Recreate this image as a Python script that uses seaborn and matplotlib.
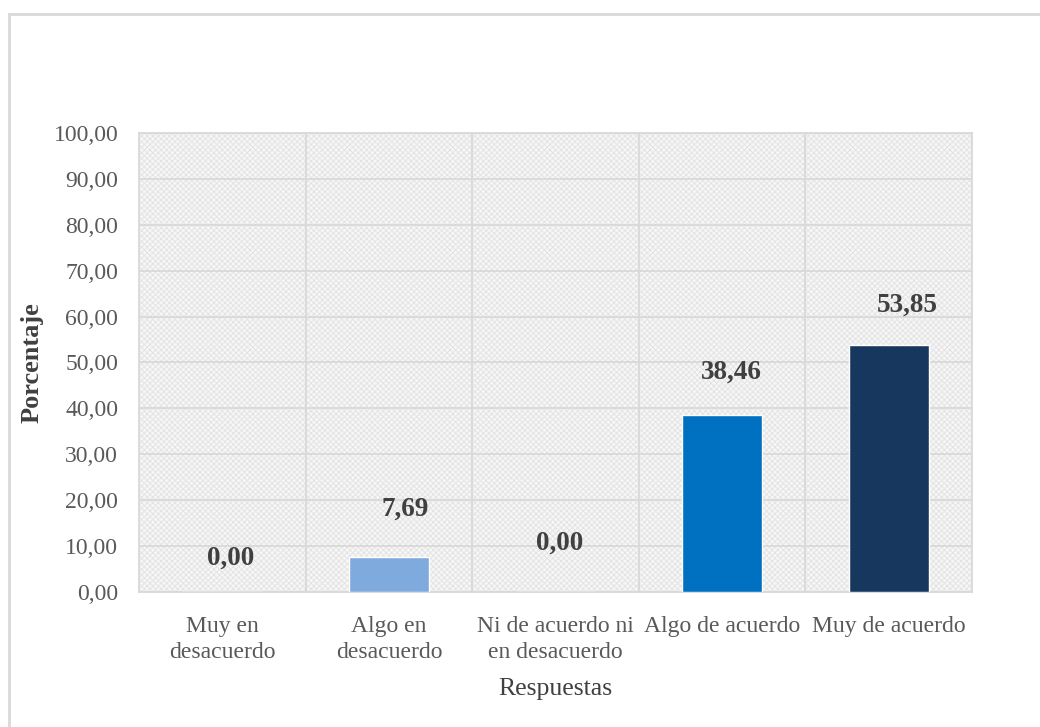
import matplotlib
matplotlib.use("Agg")
import matplotlib.pyplot as plt
from matplotlib.patches import Rectangle
import seaborn as sns
import pandas as pd
import numpy as np

categories = ["Muy en\ndesacuerdo", "Algo en\ndesacuerdo", "Ni de acuerdo ni\nen desacuerdo",
              "Algo de acuerdo", "Muy de acuerdo"]
values = [0.00, 7.69, 0.00, 38.46, 53.85]
bar_colors = ["#7FAADD", "#7FAADD", "#7FAADD", "#0070C0", "#17375E"]
label_lift = [7.4, 10.4, 10.7, 9.5, 8.7]        # value-label height above each bar
label_shift = [0.05, 0.10, 0.025, 0.057, 0.114]  # value-label sideways nudge
y_ticks = np.arange(0, 101, 10)

sns.set_theme(style="white")
plt.rcParams["font.family"] = ["Liberation Serif", "DejaVu Serif"]
plt.rcParams["hatch.linewidth"] = 0.6

fig = plt.figure(figsize=(10.4, 7.27), dpi=100)
ax = fig.add_axes([0.1337, 0.1857, 0.8009, 0.6314])

# outer chart border (top and left visible)
fig.add_artist(Rectangle((9 / 1040, -0.05), 1.2, 1 - 14 / 727 + 0.05, transform=fig.transFigure,
                         fill=False, edgecolor="#D9D9D9", linewidth=2.0))

df = pd.DataFrame({"Respuestas": categories, "Porcentaje": values})
sns.barplot(data=df, x="Respuestas", y="Porcentaje", hue="Respuestas",
            palette=bar_colors, legend=False, width=0.48, saturation=1, ax=ax, zorder=3)

# patterned plot background
ax.add_patch(Rectangle((0, 0), 1, 1, transform=ax.transAxes, facecolor="#F6F6F6",
                       edgecolor="#E2E2E2", hatch="xxxxxx", linewidth=0, zorder=0))

ax.set_xlim(-0.5, len(categories) - 0.5)
ax.set_ylim(0, 100)
ax.set_yticks(y_ticks)
ax.set_yticklabels([f"{v:.2f}".replace(".", ",") for v in y_ticks])
ax.set_xticks(range(len(categories)))
ax.set_xticks(np.arange(0.5, len(categories) - 0.5, 1), minor=True)

ax.grid(True, axis="y", which="major", color="#D9D9D9", linewidth=1.3, zorder=1)
ax.grid(True, axis="x", which="minor", color="#D9D9D9", linewidth=1.3, zorder=1)
ax.grid(False, axis="x", which="major")
ax.set_axisbelow(True)
for s in ax.spines.values():
    s.set_color("#D9D9D9")
    s.set_linewidth(1.3)

ax.tick_params(axis="both", which="both", length=0, colors="#595959", labelsize=17)
ax.tick_params(axis="y", pad=15)
ax.tick_params(axis="x", pad=17)
for t in ax.get_xticklabels():
    t.set_linespacing(1.35)

ax.set_ylabel("Porcentaje", fontsize=19, fontweight="bold", color="#404040", labelpad=7)
ax.set_xlabel("Respuestas", fontsize=18.5, color="#404040", labelpad=11)

for i, (v, lift, dx) in enumerate(zip(values, label_lift, label_shift)):
    ax.text(i + dx, v + lift, f"{v:.2f}".replace(".", ","), ha="center", va="center",
            fontsize=19.5, fontweight="bold", color="#404040", zorder=4)

fig.savefig("out.png", dpi=100, facecolor="white")
